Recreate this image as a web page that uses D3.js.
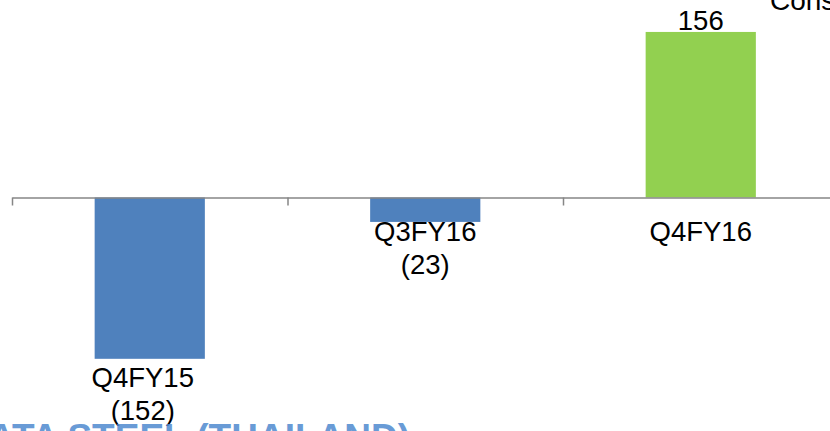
<!DOCTYPE html>
<html>
<head>
<meta charset="utf-8">
<script src="https://cdn.jsdelivr.net/npm/d3@7"></script>
<style>
  body { margin: 0; background: #fff; overflow: hidden; }
  svg { display: block; }
</style>
</head>
<body>
<script>
// chart data
var categories = ["Q4FY15", "Q3FY16", "Q4FY16"];
var values = [-152, -23, 156];
var valueLabels = ["(152)", "(23)", "156"];

let w = 830;
let h = 431;

var svg = d3.select("body")
  .append("svg")
  .attr("width", w)
  .attr("height", h);

// band scale over the category slots, linear scale for the value axis
let xScale = d3.scaleBand()
  .domain(categories)
  .range([12, 838.5]);

let yScale = d3.scaleLinear()
  .domain([-160, 160])
  .range([197.5 + 169.8, 197.5 - 169.8]);

let y0 = yScale(0);
let barW = xScale.bandwidth() * 0.4;

// bars
svg.selectAll("rect.bar")
  .data(values)
  .enter()
  .append("rect")
  .attr("class", "bar")
  .attr("x", function(d, i){ return xScale(categories[i]) + (xScale.bandwidth() - barW) / 2; })
  .attr("y", function(d){ return yScale(Math.max(d, 0)); })
  .attr("width", barW)
  .attr("height", function(d){ return Math.abs(yScale(d) - y0); })
  .attr("fill", function(d){ return d < 0 ? "#4f81bd" : "#92d050"; });

// axis with ticks on the slot boundaries
let tickScale = d3.scaleLinear().domain([0, categories.length]).range(xScale.range());
let xAxis = d3.axisBottom(tickScale)
  .ticks(categories.length)
  .tickSize(8)
  .tickSizeOuter(0)
  .tickFormat("");

let gx = svg.append("g")
  .attr("transform", "translate(0," + y0 + ")")
  .call(xAxis);
gx.selectAll("path, line").attr("stroke", "#868686").attr("stroke-width", 1.5);

// labels
let font = "'Liberation Sans', Arial, sans-serif";

// label sits under the bar when the bar reaches past the label band
function labelBase(d){
  let bottom = yScale(Math.min(d, 0));
  return bottom > y0 + 43 ? bottom + 28 : y0 + 43;
}

// labels that drop under a long bar are nudged left a little, as in the slide
function labelX(d, i){
  let cx = xScale(categories[i]) + xScale.bandwidth() / 2;
  return yScale(Math.min(d, 0)) > y0 + 43 ? cx - 7 : cx;
}

svg.selectAll("text.cat")
  .data(values)
  .enter()
  .append("text")
  .attr("class", "cat")
  .attr("x", labelX)
  .attr("y", function(d){ return labelBase(d); })
  .attr("text-anchor", "middle")
  .attr("font-family", font)
  .attr("font-size", "27.5px")
  .attr("fill", "#000")
  .text(function(d, i){ return categories[i]; });

svg.selectAll("text.val")
  .data(values)
  .enter()
  .append("text")
  .attr("class", "val")
  .attr("x", function(d, i){ return d < 0 ? labelX(d, i) : xScale(categories[i]) + xScale.bandwidth() / 2; })
  .attr("y", function(d){ return d < 0 ? labelBase(d) + 33 : yScale(d) - 2; })
  .attr("text-anchor", "middle")
  .attr("font-family", font)
  .attr("font-size", "27.5px")
  .attr("fill", "#000")
  .text(function(d, i){ return valueLabels[i]; });

// clipped slide text around the chart
svg.append("text")
  .attr("x", 770)
  .attr("y", 10)
  .attr("font-family", font)
  .attr("font-size", "28px")
  .attr("fill", "#000")
  .text("Consolidated");

svg.append("text")
  .attr("x", 410)
  .attr("y", 450)
  .attr("text-anchor", "end")
  .attr("font-family", font)
  .attr("font-weight", "bold")
  .attr("font-size", "37px")
  .attr("fill", "#4f8ad0")
  .attr("opacity", 0.85)
  .text("TATA STEEL (THAILAND)");
</script>
</body>
</html>
